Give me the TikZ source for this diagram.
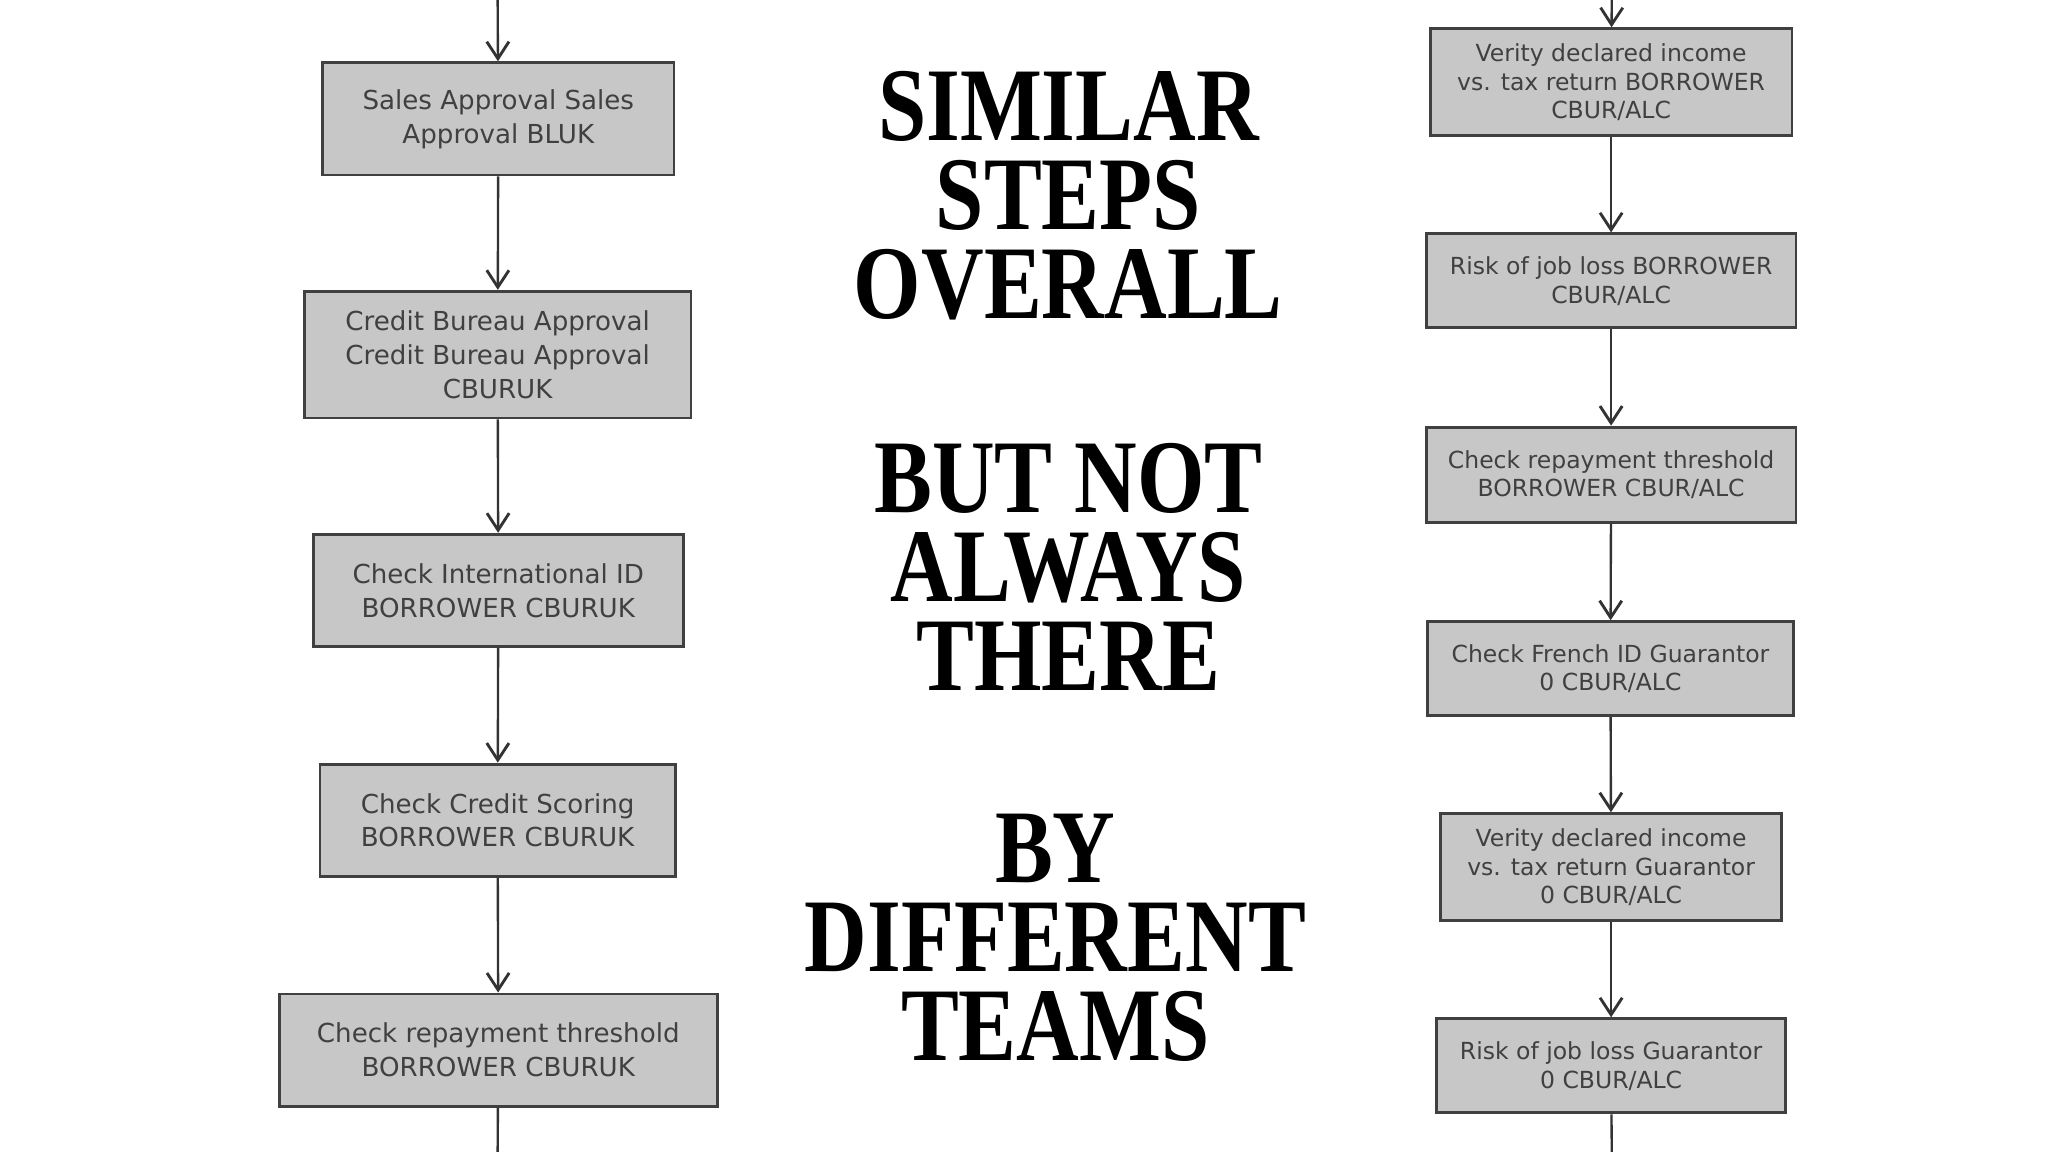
\documentclass[tikz,border=0pt]{standalone}
\usepackage{fontspec}
\setmainfont{DejaVu Sans}
\newfontfamily\bigserif{Liberation Serif}
\usetikzlibrary{arrows.meta}
\begin{document}
\begin{tikzpicture}[x=1pt,y=-1pt,
 stepbox/.style={draw=black!75,line width=2.2pt,fill=black!22,text=black!75,align=center,font=\fontsize{20}{26}\selectfont,inner sep=0pt},
 conn/.style={draw=black!80,line width=1.8pt,-{Straight Barb[length=13pt,width=17pt,line width=2.2pt]}},
 big/.style={font=\bigserif\bfseries\fontsize{80}{68}\selectfont,align=center,xscale=0.83}]
\useasboundingbox[fill=white] (0,0) rectangle (1568,882);
\newcommand\mybox[6]{\node[stepbox,minimum width=#3-#2,minimum height=#5-#4] (#1) at ({(#2+#3)/2},{(#4+#5)/2}) {#6};}
\mybox{l1}{247}{516}{48}{134}{Sales Approval Sales\\Approval BLUK}
\mybox{l2}{233}{529}{223}{320}{Credit Bureau Approval\\Credit Bureau Approval\\CBURUK}
\mybox{l3}{240}{523}{409}{495}{Check International ID\\BORROWER CBURUK}
\mybox{l4}{245}{517}{585}{671}{Check Credit Scoring\\BORROWER CBURUK}
\mybox{l5}{214}{549}{761}{847}{Check repayment threshold\\BORROWER CBURUK}
\begin{scope}[stepbox/.append style={font=\fontsize{18}{22}\selectfont}]
\mybox{r1}{1095}{1372}{22}{104}{Verity declared income\\vs. tax return BORROWER\\CBUR/ALC}
\mybox{r2}{1092}{1375}{179}{251}{Risk of job loss BORROWER\\CBUR/ALC}
\mybox{r3}{1092}{1375}{327}{400}{Check repayment threshold\\BORROWER CBUR/ALC}
\mybox{r4}{1093}{1373}{476}{548}{Check French ID Guarantor\\0 CBUR/ALC}
\mybox{r5}{1103}{1364}{623}{705}{Verity declared income\\vs. tax return Guarantor\\0 CBUR/ALC}
\mybox{r6}{1100}{1367}{780}{852}{Risk of job loss Guarantor\\0 CBUR/ALC}
\end{scope}
\coordinate (lt) at (381,0); \coordinate (lb) at (381,882);
\coordinate (rt) at (1234,0); \coordinate (rb) at (1234,882);
\draw[conn] (lt) -- (l1);
\draw[conn] (l1) -- (l2); \draw[conn] (l2) -- (l3); \draw[conn] (l3) -- (l4); \draw[conn] (l4) -- (l5);
\draw[draw=black!80,line width=1.8pt] (l5) -- (lb);
\draw[conn] (rt) -- (r1);
\draw[conn] (r1) -- (r2); \draw[conn] (r2) -- (r3); \draw[conn] (r3) -- (r4); \draw[conn] (r4) -- (r5); \draw[conn] (r5) -- (r6);
\draw[draw=black!80,line width=1.8pt] (r6) -- (rb);
\node[big] (t1) at (818,150) {SIMILAR\\STEPS\\OVERALL};
\node[big] (t2) at (818,434) {BUT NOT\\ALWAYS\\THERE};
\node[big] (t3) at (808,718) {BY\\DIFFERENT\\TEAMS};
\end{tikzpicture}
\end{document}
